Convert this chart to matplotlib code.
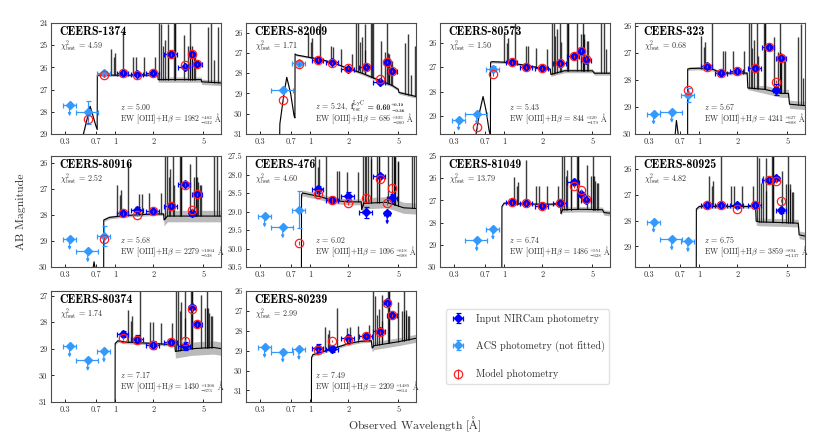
import numpy as np
import matplotlib
matplotlib.use('Agg')
import matplotlib.pyplot as plt
from matplotlib.ticker import NullLocator, FixedLocator, FixedFormatter

plt.rcParams['font.family'] = ['cmr10', 'DejaVu Serif']
plt.rcParams['mathtext.fontset'] = 'cm'
plt.rcParams['axes.formatter.use_mathtext'] = True

# ---------------- data ----------------
NAMES = ['CEERS-1374', 'CEERS-82069', 'CEERS-80573', 'CEERS-323', 'CEERS-80916',
         'CEERS-476', 'CEERS-81049', 'CEERS-80925', 'CEERS-80374', 'CEERS-80239']
CHI2 = ['4.59', '1.71', '1.50', '0.68', '2.52', '4.60', '13.79', '4.82', '1.74', '2.99']
REDSHIFT = [5.00, 5.24, 5.43, 5.67, 5.68, 6.02, 6.74, 6.75, 7.17, 7.49]
Z_TEXT = ['5.00', '5.24', '5.43', '5.67', '5.68', '6.02', '6.74', '6.75', '7.17', '7.49']
EW_VAL = ['1982', '686', '844', '4241', '2279', '1096', '1486', '3859', '1430', '2209']
EW_UP = ['462', '305', '220', '627', '1064', '618', '551', '894', '1366', '1485']
EW_LO = ['332', '260', '179', '888', '538', '388', '328', '1137', '373', '814']
FESC_VAL = ['', '0.60', '', '', '', '', '', '', '', '']
FESC_UP = ['', '0.19', '', '', '', '', '', '', '', '']
FESC_LO = ['', '0.36', '', '', '', '', '', '', '', '']

YLIMS = [(29, 24), (31, 25.52), (29.73, 25.2), (30, 25.9), (30, 25.75),
         (30.5, 27.5), (30, 25), (29.8, 25.49), (31, 26.83), (31.58, 26)]
YTICKS = [[24, 25, 26, 27, 28, 29], [26, 27, 28, 29, 30, 31], [26, 27, 28, 29],
          [26, 27, 28, 29, 30], [26, 27, 28, 29, 30], [27.5, 28.0, 28.5, 29.0, 29.5, 30.0, 30.5],
          [25, 26, 27, 28, 29, 30], [26, 27, 28, 29], [27, 28, 29, 30, 31], [26, 27, 28, 29, 30, 31]]
XTICK_POS = [0.4, 0.7, 1, 2, 5]
XTICK_LAB = ['0.3', '0.7', '1', '2', '5']

ACS_W = [0.435, 0.606, 0.814]
ACS_XERR = [0.05, 0.12, 0.10]
NIRCAM_W = [1.15, 1.50, 2.00, 2.77, 3.56, 4.08, 4.44]
NIRCAM_XERR = [0.11, 0.16, 0.23, 0.34, 0.39, 0.20, 0.40]

nan = np.nan
ACS_MAG = [[27.70, 28.03, 26.23], [nan, 28.85, 27.48], [29.15, 28.90, 27.07],
           [29.25, 29.18, 28.55], [28.93, 29.40, 28.82], [29.13, 29.43, 28.95],
           [nan, 28.80, 28.28], [28.05, 28.73, 28.80], [28.91, 29.42, 29.10],
           [28.82, 29.05, 28.92]]
ACS_ERR = [[0.08, 0.5, 0.08], [0.05, 0.1, 0.1], [0.05, 0.05, 0.1], [0.05, 0.05, 0.25],
           [0.05, 0.05, 0.38], [0.05, 0.05, 0.5], [0.05, 0.05, 0.05], [0.05, 0.05, 0.05],
           [0.05, 0.05, 0.05], [0.05, 0.05, 0.05]]
ACS_ULIM = [[1, 0, 0], [0, 0, 0], [1, 1, 0], [1, 1, 0], [1, 1, 0], [1, 1, 0],
            [0, 1, 1], [1, 1, 1], [1, 1, 1], [1, 1, 1]]

NIRCAM_MAG = [[26.23, 26.31, 26.23, 25.41, 25.98, 25.41, 25.84],
              [27.33, 27.46, 27.77, 27.69, 28.44, 27.44, 27.90],
              [26.81, 27.00, 27.05, 26.85, 26.55, 26.34, 26.72],
              [27.50, 27.73, 27.67, 27.57, 26.80, 28.36, 27.18],
              [27.94, 27.81, 27.87, 27.66, 26.83, 27.94, 27.22],
              [28.40, 28.68, 28.57, 29.02, 28.04, 29.05, 28.64],
              [27.09, 27.13, 27.25, 27.12, 26.16, 26.72, 26.97],
              [27.39, 27.40, 27.41, 27.38, 26.41, 26.36, 27.59],
              [28.45, 28.64, 28.86, 28.76, 28.91, 27.44, 28.08],
              [28.85, 28.90, 28.37, 28.25, 28.03, 26.55, 27.23]]
NIRCAM_ERR = [[0.06, 0.06, 0.05, 0.05, 0.08, 0.05, 0.05],
              [0.05, 0.05, 0.05, 0.05, 0.08, 0.05, 0.06],
              [0.05, 0.05, 0.05, 0.05, 0.05, 0.05, 0.06],
              [0.05, 0.05, 0.05, 0.05, 0.05, 0.20, 0.05],
              [0.05, 0.10, 0.05, 0.05, 0.05, 0.10, 0.05],
              [0.10, 0.08, 0.10, 0.15, 0.05, 0.20, 0.12],
              [0.04, 0.05, 0.05, 0.05, 0.06, 0.06, 0.05],
              [0.05, 0.05, 0.08, 0.05, 0.05, 0.05, 0.10],
              [0.10, 0.15, 0.15, 0.08, 0.15, 0.08, 0.06],
              [0.20, 0.15, 0.15, 0.10, 0.10, 0.08, 0.08]]
NIRCAM_ULIM = [[0] * 7, [0] * 7, [0] * 7, [0] * 7, [0] * 7,
               [0, 0, 0, 0, 0, 1, 0], [0] * 7, [0] * 7, [0] * 7, [0] * 7]

MODEL_ACS = [[nan, 28.33, 26.35], [nan, 29.30, 27.54], [nan, 29.43, 27.30],
             [nan, nan, 28.38], [nan, nan, 28.92], [nan, nan, 29.85],
             [nan, nan, nan], [nan, nan, nan], [nan, nan, nan], [nan, nan, nan]]
MODEL_NIRCAM = [[26.23, 26.36, 26.25, 25.41, 25.90, 25.41, 25.84],
                [27.33, 27.49, 27.74, 27.69, 28.28, 27.44, 27.90],
                [26.80, 27.00, 27.05, 26.85, 26.55, 26.34, 26.65],
                [27.51, 27.73, 27.67, 27.57, 26.80, 28.07, 27.18],
                [27.94, 27.99, 27.87, 27.66, 26.85, 27.80, 27.22],
                [28.52, 28.70, 28.77, 28.64, 28.13, 28.77, 28.37],
                [27.09, 27.13, 27.24, 27.12, 26.37, 26.55, 26.94],
                [27.39, 27.40, 27.54, 27.40, 26.41, 26.46, 27.22],
                [28.61, 28.66, 28.86, 28.76, 28.69, 27.51, 28.08],
                [28.98, 28.50, 28.48, 28.25, 28.08, 26.62, 27.23]]

# best-fit spectrum continuum knots (observed micron, AB mag)
SPEC_W = [
    [0.31, 0.545, 0.56, 0.60, 0.633, 0.66, 0.70, 0.72, 0.722, 0.80, 1.0, 1.5, 2.0, 2.18, 2.19, 3.0, 4.0, 4.8, 4.85, 6.93],
    [0.31, 0.56, 0.575, 0.62, 0.652, 0.70, 0.745, 0.757, 0.759, 0.78, 1.24, 1.58, 2.0, 2.58, 3.5, 4.46, 5.0, 5.05, 6.9],
    [0.31, 0.58, 0.60, 0.64, 0.68, 0.72, 0.76, 0.778, 0.781, 0.80, 1.0, 1.46, 1.98, 2.32, 2.345, 3.0, 5.0, 5.2, 6.9],
    [0.31, 0.62, 0.64, 0.66, 0.69, 0.72, 0.808, 0.811, 0.85, 1.0, 1.3, 1.5, 2.4, 2.43, 3.3, 4.5, 5.1, 5.2, 6.9],
    [0.31, 0.64, 0.66, 0.68, 0.70, 0.72, 0.808, 0.812, 0.90, 1.2, 2.0, 2.42, 2.44, 2.6, 4.0, 7.0],
    [0.31, 0.850, 0.854, 0.87, 1.2, 1.5, 2.0, 2.54, 2.56, 2.65, 4.0, 4.5, 5.5, 7.0],
    [0.31, 0.955, 0.96, 1.0, 1.2, 2.0, 2.8, 2.82, 2.9, 4.0, 6.0, 6.2, 7.0],
    [0.31, 0.945, 0.95, 1.0, 2.0, 2.8, 2.83, 3.0, 5.0, 6.1, 6.2, 6.9],
    [0.31, 0.995, 1.0, 1.05, 1.2, 2.0, 2.9, 2.97, 3.0, 4.0, 6.0, 7.0],
    [0.31, 1.02, 1.025, 1.05, 1.3, 2.0, 2.5, 3.05, 3.1, 3.2, 5.0, 7.0],
]
SPEC_M = [
    [35, 35, 29.0, 28.3, 27.75, 28.1, 28.6, 28.8, 26.35, 26.35, 26.35, 26.35, 26.35, 26.33, 26.55, 26.55, 26.55, 26.55, 26.65, 26.7],
    [35, 35, 30.5, 29.0, 28.2, 29.0, 30.1, 30.2, 27.05, 27.1, 27.33, 27.52, 27.77, 28.0, 28.34, 28.6, 28.8, 28.95, 29.15],
    [35, 35, 29.7, 28.8, 28.2, 28.8, 29.6, 29.8, 26.8, 26.78, 26.8, 26.92, 27.05, 27.08, 27.3, 27.15, 27.15, 27.25, 27.25],
    [35, 35, 30.2, 29.5, 30.2, 35, 35, 27.6, 27.58, 27.57, 27.62, 27.75, 27.75, 28.3, 28.35, 28.5, 28.5, 28.9, 28.95],
    [35, 35, 30.2, 29.8, 30.2, 35, 35, 28.2, 28.1, 28.03, 27.97, 27.97, 28.2, 28.05, 28.05, 28.05],
    [35, 35, 28.55, 28.5, 28.6, 28.7, 28.74, 28.74, 28.95, 28.78, 28.75, 28.8, 28.9, 28.92],
    [35, 35, 27.27, 27.12, 27.15, 27.17, 27.17, 27.6, 27.42, 27.4, 27.42, 27.55, 27.58],
    [35, 35, 27.55, 27.45, 27.45, 27.45, 28.02, 28.05, 28.08, 28.1, 28.55, 28.6],
    [35, 35, 28.8, 28.7, 28.75, 28.8, 28.85, 28.85, 29.1, 29.0, 28.95, 29.0],
    [35, 35, 29.35, 29.2, 29.03, 28.65, 28.53, 28.5, 28.87, 28.75, 28.55, 28.37],
]
BAND_BLUE = [0.05, 0.05, 0.05, 0.06, 0.06, 0.08, 0.05, 0.06, 0.06, 0.08]
BAND_RED = [0.12, 0.08, 0.08, 0.15, 0.22, 0.15, 0.12, 0.15, 0.25, 0.2]

# emission lines (rest micron) and their peak height above continuum (mag)
LINE_REST = [0.1549, 0.1640, 0.1663, 0.1909, 0.2326, 0.2424, 0.2800, 0.3426, 0.3727, 0.3869,
             0.3968, 0.4102, 0.4340, 0.4363, 0.4861, 0.4959, 0.5007, 0.5876, 0.6300, 0.6563,
             0.6584, 0.6717, 0.6731, 0.7065, 0.7136, 0.9069, 0.9531, 1.005, 1.083]
LINE_AMP = [1.2, 0.8, 1.0, 2.0, 0.8, 0.8, 0.8, 0.8, 3.5, 2.5,
            1.5, 1.8, 2.5, 1.2, 3.5, 4.5, 6.0, 2.0, 1.5, 6.0,
            1.5, 1.5, 1.3, 1.2, 1.2, 2.5, 3.0, 1.0, 2.5]

NIRCAM_COLOR = '#0000ff'
ACS_COLOR = '#3399ff'
MODEL_COLOR = '#ff2020'
TEXT_COLOR = '0.2'

# ---------------- layout ----------------
W, H = 830, 447
DPI = 100
COL_LEFT = [51, 246, 440, 635]
ROW_TOP = [23, 156, 291]
AX_W, AX_H = 170, 111
MAIN_FS = 5.7
SCRIPT_FS = 3.7
TXT_X = 0.405

fig = plt.figure(figsize=(W / DPI, H / DPI), dpi=DPI)


def down_arrow(ax, x, y, color):
    ax.annotate('', xy=(x, y), xycoords='data', xytext=(0, -8), textcoords='offset points',
                arrowprops=dict(arrowstyle='<|-', color=color, lw=0.9, shrinkA=0, shrinkB=0,
                                mutation_scale=4))


handles = None
pending = []
for i in range(10):
    r, c = divmod(i, 4)
    ax = fig.add_axes([COL_LEFT[c] / W, 1 - (ROW_TOP[r] + AX_H) / H, AX_W / W, AX_H / H])
    ax.set_xscale('log')
    ax.set_xlim(0.31, 6.9)
    ax.set_ylim(*YLIMS[i])
    z = REDSHIFT[i]

    # spectrum
    w = np.array(SPEC_W[i])
    m = np.array(SPEC_M[i], dtype=float)
    band = np.where(w < 0.3646 * (1 + z), BAND_BLUE[i], BAND_RED[i])
    band = np.where(m > 34, 0, band)
    ax.fill_between(w, m - band, m + band, color='0.55', alpha=0.6, lw=0, zorder=1)
    lam = np.array(LINE_REST) * (1 + z)
    amp = np.array(LINE_AMP)
    keep = (lam > 0.1216 * (1 + z) * 1.02) & (lam < 6.9)
    lam, amp = lam[keep], amp[keep]
    cont = np.interp(np.log(lam), np.log(w), m)
    ax.vlines(lam, cont, cont - amp, color='0.65', lw=1.8, alpha=0.6, zorder=1)
    ax.plot(w, m, color='k', lw=0.8, zorder=2)
    ax.vlines(lam, cont, cont - amp, color='k', lw=0.5, zorder=2)

    # ACS photometry
    amag = np.array(ACS_MAG[i])
    aerr = np.array(ACS_ERR[i])
    ulim = np.array(ACS_ULIM[i]).astype(bool)
    h_acs = ax.errorbar(ACS_W, amag, xerr=ACS_XERR, yerr=np.where(ulim, 0, aerr), fmt='D',
                        color=ACS_COLOR, ms=4, elinewidth=0.9, capsize=1.8, capthick=0.9, zorder=4)
    for k in range(3):
        if ulim[k] and np.isfinite(amag[k]):
            down_arrow(ax, ACS_W[k], amag[k], ACS_COLOR)

    # NIRCam photometry
    nmag = np.array(NIRCAM_MAG[i])
    nerr = np.array(NIRCAM_ERR[i])
    nlim = np.array(NIRCAM_ULIM[i]).astype(bool)
    h_nir = ax.errorbar(NIRCAM_W, nmag, xerr=NIRCAM_XERR, yerr=np.where(nlim, 0, nerr), fmt='D',
                        color=NIRCAM_COLOR, ms=4, elinewidth=0.9, capsize=1.8, capthick=0.9, zorder=5)
    for k in range(7):
        if nlim[k]:
            down_arrow(ax, NIRCAM_W[k], nmag[k], NIRCAM_COLOR)

    # model photometry
    mw = ACS_W + NIRCAM_W
    mm = np.array(MODEL_ACS[i] + MODEL_NIRCAM[i])
    h_mod = ax.errorbar(mw, mm, yerr=0.06, fmt='o', mfc='none', mec=MODEL_COLOR, ecolor=MODEL_COLOR,
                        ms=6, mew=0.9, elinewidth=0.8, capsize=0, zorder=6)
    if handles is None:
        handles = [h_nir, h_acs, h_mod]

    # axes cosmetics
    ax.xaxis.set_major_locator(FixedLocator(XTICK_POS))
    ax.xaxis.set_major_formatter(FixedFormatter(XTICK_LAB))
    ax.xaxis.set_minor_locator(NullLocator())
    ax.yaxis.set_major_locator(FixedLocator(YTICKS[i]))
    ax.yaxis.set_minor_locator(NullLocator())
    if i == 5:
        ax.set_yticklabels(['%.1f' % t for t in YTICKS[i]])
    else:
        ax.set_yticklabels(['%d' % t for t in YTICKS[i]])
    ax.tick_params(labelsize=6, direction='in', length=2, pad=2.5, width=0.6, labelcolor=TEXT_COLOR)
    for s in ax.spines.values():
        s.set_linewidth(0.8)
        s.set_color('0.3')

    # texts
    ax.text(0.05, 0.915, NAMES[i], transform=ax.transAxes, fontsize=8.6, family='cmb10',
            va='center', ha='left', zorder=10)
    ax.text(0.05, 0.795, r'$\chi^2_{\rm best}$ = ' + CHI2[i], transform=ax.transAxes, fontsize=5.8,
            va='center', ha='left', color=TEXT_COLOR, zorder=10)

    tz = ax.text(TXT_X, 0.22, r'$z$ = ' + Z_TEXT[i] + (',' if FESC_VAL[i] else ''), transform=ax.transAxes,
                 fontsize=MAIN_FS, va='baseline', ha='left', color=TEXT_COLOR, zorder=10)
    if FESC_VAL[i]:
        pending.append((ax, tz, 0.22, None, None, False, FESC_VAL[i], FESC_UP[i], FESC_LO[i]))
    te = ax.text(TXT_X, 0.11, r'EW [OIII]+H$\beta$ = ' + EW_VAL[i], transform=ax.transAxes,
                 fontsize=MAIN_FS, va='baseline', ha='left', color=TEXT_COLOR, zorder=10)
    pending.append((ax, te, 0.11, EW_UP[i], EW_LO[i], True, None, None, None))

fig.text(21 / W, 1 - 212 / H, 'AB Magnitude', rotation=90, fontsize=8.5, va='center', ha='center',
         color=TEXT_COLOR)
fig.text(415 / W, 1 - 424 / H, r'Observed Wavelength [$\rm\AA$]', fontsize=8.5, va='center',
         ha='center', color=TEXT_COLOR)

leg = fig.legend(handles, ['Input NIRCam photometry', 'ACS photometry (not fitted)', 'Model photometry'],
                 loc='upper left', bbox_to_anchor=(446 / W, 1 - 309 / H), fontsize=7.3,
                 labelspacing=1.7, handlelength=1.5, borderpad=0.45, handletextpad=1.0,
                 borderaxespad=0, frameon=True, fancybox=True, edgecolor='0.85')
for t in leg.get_texts():
    t.set_color(TEXT_COLOR)

# ---- place super/subscripts after measuring the rendered text ----
fig.canvas.draw()
renderer = fig.canvas.get_renderer()
px_per_pt = DPI / 72.0


def put(ax, x_disp, y_axes, s, fs, bold=False, dy_px=0.0):
    inv = ax.transAxes.inverted()
    base_disp = ax.transAxes.transform((0, y_axes))[1]
    xa, ya = inv.transform((x_disp, base_disp + dy_px))
    kw = dict(family=['cmb10', 'DejaVu Sans']) if bold else {}
    t = ax.text(xa, ya, s, transform=ax.transAxes, fontsize=fs, va='baseline', ha='left',
                color=TEXT_COLOR, zorder=10, **kw)
    return t, t.get_window_extent(renderer)


def add_scripts(ax, x_disp, y_axes, up, lo, bold=False):
    fs_px = MAIN_FS * px_per_pt
    _, b_up = put(ax, x_disp, y_axes, '+' + up, SCRIPT_FS, bold, 0.42 * fs_px)
    _, b_lo = put(ax, x_disp, y_axes, '\u2212' + lo, SCRIPT_FS, bold, -0.26 * fs_px)
    return max(b_up.x1, b_lo.x1)


for (ax, base, y_axes, up, lo, add_A, fval, fup, flo) in pending:
    bb = base.get_window_extent(renderer)
    if fval is not None:
        _, bf = put(ax, bb.x1 + 2.5, y_axes, r'$\mathbf{f}_{\rm esc}^{\rm LyC}$', MAIN_FS)
        _, bv = put(ax, bf.x1 + 0.5, y_axes, ' = ' + fval, MAIN_FS, bold=True)
        add_scripts(ax, bv.x1 + 0.5, y_axes, fup, flo, bold=True)
    else:
        xend = add_scripts(ax, bb.x1 + 0.5, y_axes, up, lo)
        if add_A:
            put(ax, xend + 1.8, y_axes, r'$\rm\AA$', MAIN_FS)

fig.savefig('out.png', dpi=DPI)
